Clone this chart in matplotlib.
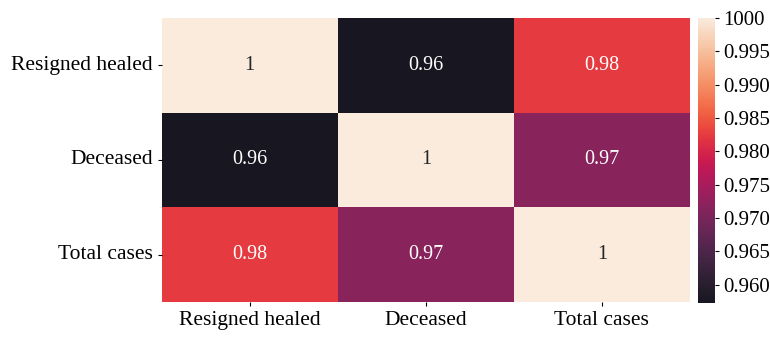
import matplotlib
matplotlib.use("Agg")
import matplotlib.pyplot as plt
from matplotlib.colors import ListedColormap
import seaborn as sns
import numpy as np
import pandas as pd

labels = ["Resigned healed", "Deceased", "Total cases"]
row_healed = [1.0, 0.9573, 0.9824]
row_deceased = [0.9573, 1.0, 0.9718]
row_total = [0.9824, 0.9718, 1.0]

cbar_ticks = [0.960, 0.965, 0.970, 0.975, 0.980, 0.985, 0.990, 0.995, 1.000]
cbar_labels = ["0.960", "0.965", "0.970", "0.975", "0.980", "0.985", "0.990", "0.995", "1000"]

plt.rcParams["font.family"] = ["Liberation Serif", "DejaVu Serif"]
plt.rcParams["font.size"] = 15

corr = pd.DataFrame([row_healed, row_deceased, row_total], index=labels, columns=labels)

# rocket, with only the dark end lifted a little like the printed figure
rocket = np.array(sns.color_palette("rocket", 256))
w = (1 - np.linspace(0, 1, 256))[:, None] ** 3
off = np.array([22, 19, 8]) / 255.0
cmap = ListedColormap(np.clip(rocket + w * off * (1 - rocket), 0, 1))

fig = plt.figure(figsize=(7.7, 3.38), dpi=100)
ax = fig.add_axes([0.21, 0.107, 0.686, 0.84])
cax = fig.add_axes([0.907, 0.104, 0.021, 0.843])

sns.heatmap(corr, annot=True, cmap=cmap, ax=ax, cbar_ax=cax,
            annot_kws={"fontsize": 14.5})

ax.tick_params(axis="both", labelsize=15.5, length=3, width=0.8)
ax.set_yticklabels(labels, rotation=0)
ax.set_xticklabels(labels, rotation=0)

cax.set_yticks(cbar_ticks)
cax.set_yticklabels(cbar_labels)
cax.tick_params(labelsize=15, length=3, width=0.8)

fig.savefig("out.png", dpi=100)
